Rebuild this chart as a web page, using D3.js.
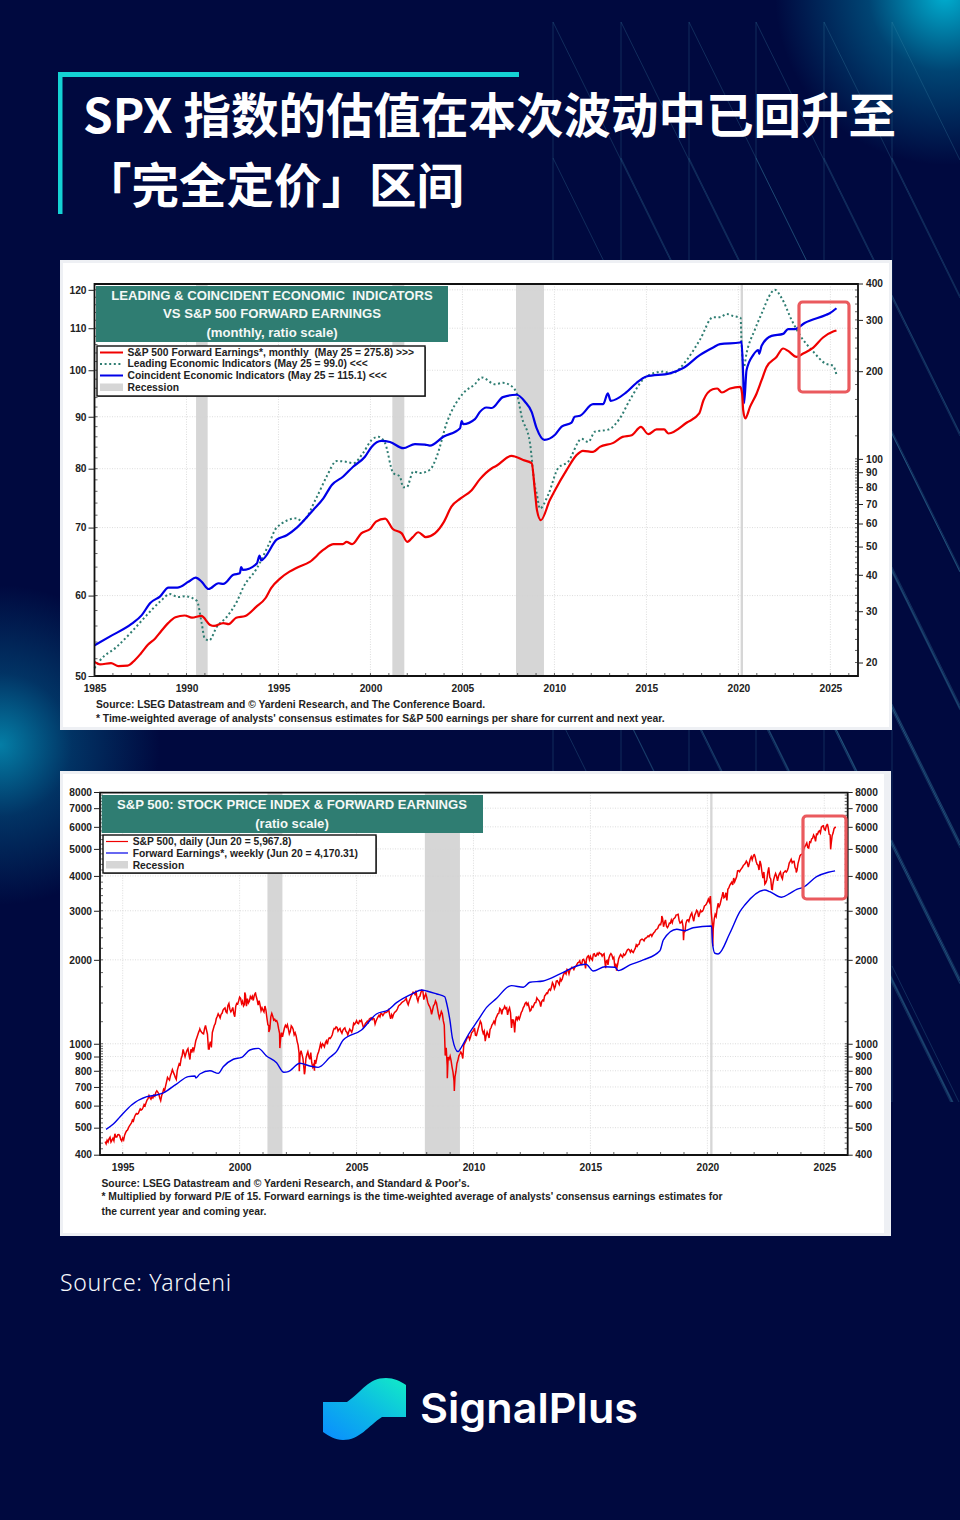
<!DOCTYPE html>
<html><head><meta charset="utf-8">
<script src="https://cdn.jsdelivr.net/npm/d3@7"></script>
<style>html,body{margin:0;padding:0;background:#00093f}svg{display:block}</style>
</head><body><svg id="c" width="960" height="1520"></svg>
<script>
// ---------- text ----------
const titleLines = ["SPX 指数的估值在本次波动中已回升至", "「完全定价」区间"];
const sourceLine = "Source: Yardeni";
const brand = "SignalPlus";
const c1Title = ["LEADING & COINCIDENT ECONOMIC  INDICATORS", "VS S&P 500 FORWARD EARNINGS", "(monthly, ratio scale)"];
const c1Legend = ["S&P 500 Forward Earnings*, monthly  (May 25 = 275.8) >>>", "Leading Economic Indicators (May 25 = 99.0) <<<", "Coincident Economic Indicators (May 25 = 115.1) <<<", "Recession"];
const c1Notes = ["Source: LSEG Datastream and © Yardeni Research, and The Conference Board.", "* Time-weighted average of analysts' consensus estimates for S&P 500 earnings per share for current and next year."];
const c2Title = ["S&P 500: STOCK PRICE INDEX & FORWARD EARNINGS", "(ratio scale)"];
const c2Legend = ["S&P 500, daily (Jun 20 = 5,967.8)", "Forward Earnings*, weekly (Jun 20 = 4,170.31)", "Recession"];
const c2Notes = ["Source: LSEG Datastream and © Yardeni Research, and Standard & Poor's.", "* Multiplied by forward P/E of 15. Forward earnings is the time-weighted average of analysts' consensus earnings estimates for", "the current year and coming year."];

// ---------- chart 1 ticks ----------
const c1YearTicks = [1985,1990,1995,2000,2005,2010,2015,2020,2025];
const c1LeftTicks = [50,60,70,80,90,100,110,120];
const c1RightTicks = [20,30,40,50,60,70,80,90,100,200,300,400];
const c1Recessions = [[1990.52,1991.15],[2001.19,2001.84],[2007.91,2009.43],[2020.12,2020.25]];

// ---------- chart 1 series ----------
const earnYears = [1985,1985.3,1985.9,1986.3,1986.8,1987.2,1987.5,1987.9,1988.3,1988.6,1989,1989.4,1989.9,1990.3,1990.8,1991.29,1991.5,1992,1992.3,1992.7,1993.2,1993.8,1994.3,1994.6,1995.1,1995.6,1996,1996.7,1997.45,1998,1998.5,1998.7,1999,1999.5,2000,2000.3,2000.8,2001.2,2001.7,2002,2002.3,2002.6,2003,2003.5,2004,2004.4,2004.9,2005.5,2005.95,2006.6,2006.85,2007.67,2008.3,2008.76,2008.95,2009.05,2009.26,2009.75,2010.03,2010.66,2011.2,2011.55,2012.1,2012.47,2013.2,2013.7,2014.2,2014.7,2015.1,2015.55,2015.96,2016.2,2017.2,2017.87,2018.1,2018.6,2018.85,2019.1,2019.55,2020.1,2020.2,2020.26,2020.37,2020.63,2020.99,2021.26,2021.53,2022.07,2022.43,2022.7,2023.16,2023.52,2024.07,2024.6,2025.15,2025.33];
const earnValues = [20.1,19.7,19.9,19.45,19.5,20.4,21.4,23,24.2,25.5,27.3,28.6,29,28.5,28.9,26.9,26.7,27.3,27.1,28.5,28.9,31.1,33.3,36,38.9,41,42.3,44.3,48.8,51,51,51.9,51,55.5,57.6,60.9,62.4,57.6,55.5,51.9,53.9,56,53.9,55.5,60.9,68.6,73.2,78.1,85.2,92.9,94.7,102.4,99.1,96.7,76.3,66.7,61.6,72.2,78.1,91.5,103,106.6,105.7,110,113.5,119,120.6,128.8,121.6,126.2,126.2,122.2,133.3,143.2,159,173.4,174.4,169,174.4,176.6,167.7,146.9,137.7,150.8,167.7,186.2,206.8,223.9,239.3,234.8,223.9,230,241,261,273.6,275.8];

const coinYears = [1985,1985.85,1987.03,1987.57,1988.03,1988.57,1989.02,1989.5,1990.1,1990.5,1990.83,1991.2,1991.74,1992,1992.55,1992.9,1992.97,1993.06,1993.82,1993.97,1994.06,1994.9,1995.45,1996,1996.9,1997.44,1997.9,1998.52,1999.07,1999.7,2000.07,2000.6,2001.06,2001.78,2002.42,2002.96,2003.23,2003.96,2004.87,2004.96,2005.04,2005.68,2005.95,2006.3,2006.6,2007.2,2007.95,2008.4,2008.76,2009.03,2009.45,2010.03,2010.39,2010.93,2011.1,2011.39,2012.1,2012.65,2012.9,2013.06,2013.9,2014.44,2015,2016.27,2017,2017.9,2018.63,2019,2020.08,2020.17,2020.26,2020.31,2020.44,2020.8,2021.08,2021.13,2021.26,2021.8,2022.43,2022.7,2023.07,2023.6,2024.78,2024.96,2025.33];
const coinValues = [53.6,54.7,56.3,57.4,59,59.9,61.1,61.1,61.9,62.5,61.9,60.9,61.7,61.6,62.9,63.1,64,63.6,64.5,65.7,65,68.1,68.8,70,72.9,74.8,77.1,78.6,80.4,82.2,84.1,85.2,85,83.8,84.6,84.5,84.3,86,87.7,89.1,88.5,89.5,91,91.9,91.8,94.1,94.6,93.1,91,87.7,85.4,86.4,88,88.8,90,90.2,92.6,92.6,94.9,93.3,95.1,97.1,98.6,99.3,100.5,103.5,105.3,106.1,106.5,106.7,98.6,92.8,100,103.5,104.7,103.8,105.7,108.1,108.6,109.8,109.8,111.3,113.4,113.8,115.1];

const leadYears = [1985,1985.3,1986.2,1987.03,1987.84,1988.57,1989.1,1989.56,1989.93,1990.56,1990.83,1990.98,1991.23,1991.65,1992.2,1992.74,1993.1,1993.82,1994.46,1994.9,1996,1996.27,1997.08,1997.62,1998.16,1998.6,1999.07,1999.6,2000.07,2000.43,2000.79,2001.24,2001.6,2001.78,2001.97,2002.33,2002.69,2003.23,2003.6,2004.14,2005.04,2005.68,2006.04,2006.77,2007.2,2007.58,2007.95,2008.22,2008.67,2008.94,2009.03,2009.21,2009.66,2010.2,2010.75,2011.48,2011.84,2012.2,2012.92,2013.56,2014.1,2015,2015.9,2016.37,2017.2,2017.9,2018.63,2019,2019.36,2019.7,2020.12,2020.17,2020.3,2020.44,2020.89,2021.35,2021.62,2021.98,2022.35,2022.9,2023.34,2024.07,2024.7,2025.15,2025.33];
const leadValues = [50.9,51.8,53.4,55.3,57.4,59.2,60.2,59.8,59.9,59.3,56.3,54.5,54.2,55.9,57.2,59.2,61.2,63.8,67.3,70,71.5,71,75,78.6,81.4,81.3,81,82.9,85.4,86,84.8,79.2,78.6,76.7,76.7,79.5,79.2,79.8,82.2,88.7,94.9,96.9,98.4,96.9,97.2,96.7,94.9,90,84.8,76.8,75.7,73.1,75.4,80.1,81.3,85.6,85,87,87.4,89.7,93.5,98.6,99.7,99.3,102.4,107.1,112.8,112.8,113.6,113.1,112.6,106.3,100.8,103.9,109.6,114.7,117.8,120,117.8,112,108.3,104.3,101.6,101,99];

// ---------- chart 2 ticks ----------
const c2YearTicks = [1995,2000,2005,2010,2015,2020,2025];
const c2ValueTicks = [400,500,600,700,800,900,1000,2000,3000,4000,5000,6000,7000,8000];
const c2Recessions = [[2001.19,2001.83],[2007.92,2009.42],[2020.12,2020.22]];

// ---------- chart 2 series: S&P 500 month-end readings from Mar 1994 ----------
const spxStart = 1994.25;
const spxMonthly = [
445.8,450.9,456.5,444.3,458.3,475.5,462.7,472.3,453.7,459.3,
470,487,500,514,533,545,562,562,584,582,605,615,
636,640,645,654,669,671,640,652,687,705,757,741,
786,791,757,801,848,885,954,899,947,915,955,970,
980,1049,1101,1112,1090,1133,1120,957,1017,1098,1163,1229,
1280,1238,1286,1335,1301,1372,1328,1320,1282,1362,1388,1469,
1394,1366,1498,1452,1420,1454,1430,1517,1436,1429,1314,1320,
1366,1239,1160,1249,1255,1224,1211,1133,1040,1059,1139,1148,
1130,1106,1147,1076,1067,989,911,916,815,885,936,879,
855,841,848,916,963,974,990,1008,995,1050,1058,1111,
1131,1144,1126,1107,1120,1140,1101,1104,1114,1130,1173,1211,
1181,1203,1180,1156,1191,1191,1234,1220,1228,1207,1249,1248,
1280,1280,1294,1310,1270,1270,1276,1303,1335,1377,1400,1418,
1438,1406,1420,1482,1530,1503,1455,1473,1526,1549,1481,1468,
1378,1330,1322,1385,1400,1280,1267,1282,1166,968,896,903,
825,735,797,872,919,919,987,1020,1057,1036,1095,1115,
1073,1104,1169,1186,1089,1030,1101,1049,1141,1183,1180,1257,
1286,1327,1325,1363,1345,1320,1292,1218,1131,1253,1246,1257,
1312,1365,1408,1397,1310,1362,1379,1406,1440,1412,1416,1426,
1498,1514,1569,1597,1630,1606,1685,1632,1681,1756,1805,1848,
1782,1859,1872,1883,1923,1960,1930,2003,1972,2018,2067,2058,
1994,2104,2067,2085,2107,2063,2103,1972,1920,2079,2080,2043,
1940,1932,2059,2065,2096,2098,2173,2170,2168,2126,2198,2238,
2278,2363,2362,2384,2411,2423,2470,2471,2519,2575,2647,2673,
2823,2713,2640,2648,2705,2718,2816,2901,2913,2711,2760,2506,
2704,2784,2834,2945,2752,2941,2980,2926,2976,3037,3140,3230,
3225,2954,2584,2912,3044,3100,3271,3500,3363,3269,3621,3756,
3714,3811,3972,4181,4204,4297,4395,4522,4307,4605,4567,4766,
4515,4373,4530,4131,4132,3785,4130,3955,3585,3871,4080,3839,
4076,3970,4109,4169,4179,4450,4588,4507,4288,4193,4567,4769,
4845,5096,5254,5035,5277,5460,5522,5648,5762,5705,6032,5881,
6040,5954,5611,5569,5911,5967.8];
// readings between consecutive month-ends
const spxMidMonth = [
438,444,462,451,449,463,472,468,448,452,
480,490,508,520,528,555,559,574,579,592,599,628,
652,633,640,648,678,662,625,665,680,730,748,768,
808,775,745,826,840,905,926,925,960,878,930,945,
1025,1075,1122,1100,1085,1164,1082,985,970,1130,1180,1252,
1262,1275,1320,1345,1290,1395,1302,1350,1250,1395,1425,1455,
1420,1385,1365,1400,1478,1480,1490,1480,1375,1375,1345,1300,
1320,1170,1130,1285,1215,1205,1185,1090,1097,1100,1165,1170,
1085,1160,1125,1095,1020,925,945,885,795,915,900,930,
825,875,880,935,1000,1000,975,1025,1035,1045,1075,1135,
1150,1110,1135,1090,1132,1110,1075,1128,1100,1185,1190,1185,
1210,1215,1145,1180,1205,1225,1240,1232,1178,1230,1265,1285,
1262,1300,1298,1325,1228,1245,1295,1315,1365,1385,1412,1426,
1455,1380,1450,1505,1525,1550,1420,1480,1555,1440,1510,1410,
1360,1275,1370,1425,1340,1235,1305,1210,907,835,880,870,
790,760,850,905,935,885,1005,1040,1065,1060,1105,1140,
1070,1140,1205,1120,1110,1070,1080,1125,1170,1205,1235,1280,
1340,1275,1335,1335,1270,1345,1140,1215,1200,1220,1225,1295,
1345,1395,1378,1355,1320,1352,1405,1460,1430,1360,1435,1485,
1520,1555,1555,1655,1575,1680,1655,1710,1705,1790,1780,1835,
1840,1880,1845,1895,1950,1985,1925,2010,1865,2055,2000,2015,
2095,2060,2110,2125,2100,2090,1950,1990,2030,2105,2020,1890,
1860,2020,2090,2045,2075,2140,2185,2130,2140,2165,2265,2270,
2345,2375,2340,2395,2435,2455,2430,2500,2560,2590,2680,2760,
2630,2780,2610,2710,2780,2800,2840,2905,2770,2725,2640,2530,
2775,2745,2900,2840,2890,3010,2850,3010,2990,3120,3170,3300,
3375,2700,2800,2860,3190,3160,3370,3340,3480,3580,3700,3800,
3930,3890,4170,4140,4250,4370,4440,4460,4440,4690,4700,4690,
4400,4200,4390,3930,3740,3870,4290,3900,3690,3990,3990,3990,
4130,3900,4130,4130,4280,4510,4460,4510,4220,4430,4720,4780,
5010,5170,5060,5300,5430,5610,5320,5630,5810,5970,6050,5840,
6120,5640,5200,5700,5980];
// daily extremes seen between the month-ends
const spxPeakYears = [1998.3,1998.7,2000.22,2000.68,2001.25,2001.72,2002.55,2002.77,2003.2,2008.88,2009.18,2010.5,2011.76,2015.65,2016.12,2018.05,2018.98,2020.13,2020.23,2022.0,2022.78,2023.8,2025.13,2025.27];
const spxPeakValues = [1130,957,1527,1520,1103,965,797,777,800,752,677,1022,1099,1868,1829,2873,2351,3386,2237,4796,3577,4117,6144,4983];

const fwdYears = [1994.29,1994.6,1994.89,1995.38,1996.03,1996.45,1996.74,1997.3,1997.8,1998.09,1998.13,1998.3,1998.73,1999.09,1999.3,1999.73,2000.09,2000.44,2000.8,2001.15,2001.58,2001.89,2002.08,2002.58,2003,2003.36,2003.86,2004.14,2004.43,2005.21,2005.85,2006.35,2006.71,2007.42,2007.78,2008,2008.43,2008.77,2008.85,2008.99,2009.1,2009.34,2009.48,2009.77,2010.2,2010.56,2010.99,2011.49,2011.63,2012.13,2012.41,2012.98,2013.7,2014.55,2014.81,2015.12,2015.62,2016.05,2016.19,2016.69,2017.26,2017.97,2018.12,2018.69,2019.04,2019.39,2020.18,2020.22,2020.32,2020.46,2020.96,2021.39,2021.6,2022.46,2022.67,2023.17,2023.53,2023.82,2024.1,2024.67,2025.17,2025.46];
const fwdValues = [493,515,547,603,646,655,667,717,762,766,754,779,800,783,827,880,894,950,963,904,855,790,794,851,832,823,894,937,1031,1120,1279,1322,1404,1517,1559,1546,1508,1475,1400,1217,1046,937,971,1075,1217,1350,1456,1603,1616,1595,1662,1680,1780,1917,1928,1824,1890,1881,1829,1917,1998,2157,2357,2574,2544,2608,2645,2293,2112,2099,2491,2977,3147,3563,3511,3353,3465,3582,3642,3974,4123,4170.31];

// ---------- decoration ----------
const svg = d3.select("#c");
const defs = svg.append("defs");
function glow(id, cx, cy, r, col){
  const g = defs.append("radialGradient").attr("id",id).attr("gradientUnits","userSpaceOnUse").attr("cx",cx).attr("cy",cy).attr("r",r);
  g.append("stop").attr("offset",0).attr("stop-color",col).attr("stop-opacity",1);
  g.append("stop").attr("offset",0.45).attr("stop-color",col).attr("stop-opacity",.36);
  g.append("stop").attr("offset",1).attr("stop-color",col).attr("stop-opacity",0);
}
glow("g1",945,-5,170,"#00aed0");
glow("g2",0,745,160,"#047ea6");
const lg = defs.append("linearGradient").attr("id","lg").attr("x1",0).attr("y1",1).attr("x2",1).attr("y2",0);
lg.append("stop").attr("offset",0).attr("stop-color","#0a8cff");
lg.append("stop").attr("offset",.5).attr("stop-color","#0cb8e6");
lg.append("stop").attr("offset",1).attr("stop-color","#12ecc6");

svg.append("rect").attr("width",960).attr("height",1520).attr("fill","#00093f");
svg.append("rect").attr("width",960).attr("height",1520).attr("fill","url(#g1)");
svg.append("rect").attr("width",960).attr("height",1520).attr("fill","url(#g2)");

const lineXs = [553,621,689,756,824,892];
const lineYs = [22,158,295,431,567,704,840,966];
const deco = svg.append("g").attr("stroke","#3f8fb0").attr("stroke-opacity",.38).attr("stroke-width",.7).attr("fill","none");
lineXs.forEach(x=>{
  deco.append("line").attr("x1",x).attr("x2",x).attr("y1",22).attr("y2",1102);
  lineYs.forEach(y=>{
    const dx = Math.min(960-x,(1102-y)/2.03);
    deco.append("line").attr("x1",x).attr("y1",y).attr("x2",x+dx).attr("y2",y+dx*2.03);
  });
});

svg.append("rect").attr("x",58).attr("y",72).attr("width",461).attr("height",5).attr("fill","#14d2d4");
svg.append("rect").attr("x",58).attr("y",72).attr("width",4.5).attr("height",142).attr("fill","#14d2d4");
const tt = svg.append("g").attr("fill","#fff").attr("font-family","'Noto Sans CJK SC'").attr("font-weight",700).attr("font-size",47.5);
tt.append("text").attr("x",83).attr("y",133).text(titleLines[0]);
tt.append("text").attr("x",84).attr("y",203).text(titleLines[1]);

svg.append("text").attr("x",60).attr("y",1291).attr("fill","#f6f8fb").attr("font-family","'Noto Sans'").attr("font-weight",300).attr("font-size",23).attr("letter-spacing",.7).text(sourceLine);

svg.append("path").attr("fill","url(#lg)").attr("d","M323 1402 L347 1402 C362 1392 368 1378 386 1378 C394 1378 400 1381 406 1385 L406 1417 L382 1417 C368 1426 360 1440 343 1440 C335 1440 329 1436 323 1432 Z");
svg.append("text").attr("x",420).attr("y",1423).attr("fill","#fff").attr("font-family","Inter").attr("font-weight",600).attr("font-size",41.5).attr("textLength",218).attr("lengthAdjust","spacingAndGlyphs").text(brand);

// ---------- shared chart helpers ----------
const FONT = "'Liberation Sans'";
function card(x,y,w,h,bandX){
  svg.append("rect").attr("x",x).attr("y",y).attr("width",w).attr("height",h).attr("fill","#eef0f4");
  svg.append("rect").attr("x",x+3).attr("y",y+3).attr("width",bandX-x-3).attr("height",h-6).attr("fill","#fff");
}
function grid(g,xs,ys,x,y,L,R,T,B){
  const gr = g.append("g").attr("stroke","#d4d4d4").attr("stroke-width",.8).attr("stroke-dasharray","1 1.5");
  xs.forEach(v=>gr.append("line").attr("x1",x(v)).attr("x2",x(v)).attr("y1",T).attr("y2",B));
  ys.forEach(v=>gr.append("line").attr("x1",L).attr("x2",R).attr("y1",y(v)).attr("y2",y(v)));
}
function styleAxis(a,size){
  a.select(".domain").remove();
  a.selectAll("text").attr("font-family",FONT).attr("font-weight",700).attr("font-size",size).attr("fill","#222");
  a.selectAll("line").attr("stroke","#222").attr("stroke-width",1);
}
function minor(g,vals,pos,orient,len){
  const m = g.append("g").attr("stroke","#222").attr("stroke-width",.7);
  vals.forEach(v=>{
    const p = pos.scale(v);
    if(orient==="x") m.append("line").attr("x1",p).attr("x2",p).attr("y1",pos.at).attr("y2",pos.at-len);
    else m.append("line").attr("y1",p).attr("y2",p).attr("x1",pos.at).attr("x2",pos.at+len);
  });
}
function titleBox(x,y,w,h,cx,lines,bases,size){
  svg.append("rect").attr("x",x).attr("y",y).attr("width",w).attr("height",h).attr("fill","#2f7d72");
  lines.forEach((t,i)=>svg.append("text").attr("x",cx).attr("y",bases[i]).attr("text-anchor","middle").attr("xml:space","preserve").attr("fill","#f4f8f6").attr("font-family",FONT).attr("font-weight",700).attr("font-size",size).text(t));
}
function legendBox(x,y,w,h){
  svg.append("rect").attr("x",x+1).attr("y",y+1).attr("width",w).attr("height",h).attr("fill","#777");
  svg.append("rect").attr("x",x).attr("y",y).attr("width",w).attr("height",h).attr("fill","#fff").attr("stroke","#111").attr("stroke-width",1.4);
}
function legendText(x,y,t,size){
  svg.append("text").attr("x",x).attr("y",y).attr("xml:space","preserve").attr("font-family",FONT).attr("font-weight",700).attr("font-size",size).attr("fill","#222").text(t);
}
function notes(x,bases,lines,size){
  lines.forEach((t,i)=>legendText(x,bases[i],t,size));
}
function frame(g,L,R,T,B){
  g.append("path").attr("fill","none").attr("stroke","#111").attr("stroke-width",1.8).attr("d",`M${L} ${T}H${R}V${B}H${L}Z`);
}
function highlight(x,y,w,h){
  svg.append("rect").attr("x",x).attr("y",y).attr("width",w).attr("height",h).attr("rx",3.5).attr("fill","none").attr("stroke","#ea5a5e").attr("stroke-width",3.2);
}

// ---------- chart 1 ----------
card(60,260,832,470,889);
{
  const L=94.5,R=858,T=284,B=676;
  const x=d3.scaleLinear().domain([1985,2026.5]).range([L,R]);
  const yL=d3.scaleLog().domain([50,121.6]).range([B,T]);
  const yR=d3.scaleLog().domain([20,400]).range([662.5,283.5]);
  const g=svg.append("g");
  g.selectAll(".rec").data(c1Recessions).join("rect").attr("x",d=>x(d[0])).attr("width",d=>x(d[1])-x(d[0])).attr("y",T).attr("height",B-T).attr("fill","#d6d6d6");
  grid(g,c1YearTicks.slice(1),c1LeftTicks.slice(1),x,yL,L,R,T,B);
  const lineOf=(xs,ys,yScale)=>d3.line().curve(d3.curveMonotoneX).x((d,i)=>x(xs[i])).y(d=>yScale(d))(ys);
  g.append("path").attr("d",lineOf(leadYears,leadValues,yL)).attr("fill","none").attr("stroke","#2f7d72").attr("stroke-width",2).attr("stroke-dasharray","2 2.6");
  g.append("path").attr("d",lineOf(coinYears,coinValues,yL)).attr("fill","none").attr("stroke","#0000e8").attr("stroke-width",2.2).attr("stroke-linejoin","round");
  g.append("path").attr("d",lineOf(earnYears,earnValues,yR)).attr("fill","none").attr("stroke","#f00000").attr("stroke-width",2.2).attr("stroke-linejoin","round");
  frame(g,L,R,T,B);
  minor(g,d3.range(1985,2027),{scale:x,at:B},"x",3);
  minor(g,d3.range(50,122,2),{scale:yL,at:L},"y",3);
  minor(g,d3.range(20,100,2).concat(d3.range(100,400,20)),{scale:yR,at:R},"y",-3);
  const ax=g.append("g").attr("transform",`translate(0,${B})`).call(d3.axisBottom(x).tickValues(c1YearTicks).tickFormat(d3.format("d")).tickSize(0).tickPadding(9));
  styleAxis(ax,10.2);
  const al=g.append("g").attr("transform",`translate(${L},0)`).call(d3.axisLeft(yL).tickValues(c1LeftTicks).tickFormat(d3.format("d")).tickSize(6).tickPadding(2));
  styleAxis(al,10.2);
  const ar=g.append("g").attr("transform",`translate(${R},0)`).call(d3.axisRight(yR).tickValues(c1RightTicks).tickFormat(d3.format("d")).tickSize(5).tickPadding(3));
  styleAxis(ar,10.2);
  titleBox(96,286,352,56,272,c1Title,[300,318,336.5],13.15);
  legendBox(97,346,328,50);
  const s=svg.append("g");
  s.append("line").attr("x1",100).attr("x2",123).attr("y1",352.5).attr("y2",352.5).attr("stroke","#f00000").attr("stroke-width",2);
  s.append("line").attr("x1",100).attr("x2",123).attr("y1",364).attr("y2",364).attr("stroke","#2f7d72").attr("stroke-width",2).attr("stroke-dasharray","2 2.6");
  s.append("line").attr("x1",100).attr("x2",123).attr("y1",375.5).attr("y2",375.5).attr("stroke","#0000e8").attr("stroke-width",2);
  s.append("rect").attr("x",100).attr("y",383.5).attr("width",23).attr("height",7.5).attr("fill","#d6d6d6");
  [355.7,367.3,379,390.5].forEach((b,i)=>legendText(127.5,b,c1Legend[i],10.3));
  notes(96,[708,722],c1Notes,10.3);
  highlight(799,302,50,90);
}

// ---------- chart 2 ----------
card(60,771,831,465,884);
{
  const L=100,R=847.7,T=792.7,B=1155;
  const x=d3.scaleLinear().domain([1994.03,2026]).range([L,R]);
  const y=d3.scaleLog().domain([400,8000]).range([1154.7,792]);
  const g=svg.append("g");
  g.selectAll(".rec").data(c2Recessions).join("rect").attr("x",d=>x(d[0])).attr("width",d=>x(d[1])-x(d[0])).attr("y",T).attr("height",B-T).attr("fill","#d6d6d6");
  grid(g,c2YearTicks,c2ValueTicks.slice(1,-1),x,y,L,R,T,B);
  const spx = spxMonthly.map((v,i)=>[spxStart+i/12,v])
    .concat(spxMidMonth.map((v,i)=>[spxStart+(i+0.5)/12,v]))
    .concat(spxPeakYears.map((t,i)=>[t,spxPeakValues[i]]))
    .sort((a,b)=>a[0]-b[0]);
  g.append("path").attr("d",d3.line().x(d=>x(d[0])).y(d=>y(d[1]))(spx)).attr("fill","none").attr("stroke","#f00000").attr("stroke-width",1.5);
  g.append("path").attr("d",d3.line().curve(d3.curveMonotoneX).x((d,i)=>x(fwdYears[i])).y(d=>y(d))(fwdValues)).attr("fill","none").attr("stroke","#0000e8").attr("stroke-width",1.4);
  frame(g,L,R,T,B);
  minor(g,d3.range(1995,2026),{scale:x,at:B},"x",3);
  minor(g,d3.range(400,1000,20).concat(d3.range(1000,8000,200)),{scale:y,at:L},"y",3);
  minor(g,d3.range(400,1000,20).concat(d3.range(1000,8000,200)),{scale:y,at:R},"y",-3);
  const ax=g.append("g").attr("transform",`translate(0,${B})`).call(d3.axisBottom(x).tickValues(c2YearTicks).tickFormat(d3.format("d")).tickSize(0).tickPadding(9));
  styleAxis(ax,10.2);
  const al=g.append("g").attr("transform",`translate(${L},0)`).call(d3.axisLeft(y).tickValues(c2ValueTicks).tickFormat(d3.format("d")).tickSize(6).tickPadding(2));
  styleAxis(al,10.2);
  const ar=g.append("g").attr("transform",`translate(${R},0)`).call(d3.axisRight(y).tickValues(c2ValueTicks).tickFormat(d3.format("d")).tickSize(5).tickPadding(2.5));
  styleAxis(ar,10.2);
  titleBox(101.7,795,381.3,38,292,c2Title,[809,827.5],13.1);
  legendBox(103,835,273,38);
  const s=svg.append("g");
  s.append("line").attr("x1",106).attr("x2",128).attr("y1",841.5).attr("y2",841.5).attr("stroke","#f00000").attr("stroke-width",1.2);
  s.append("line").attr("x1",106).attr("x2",128).attr("y1",853).attr("y2",853).attr("stroke","#0000e8").attr("stroke-width",1.2);
  s.append("rect").attr("x",106).attr("y",861).attr("width",22).attr("height",7.5).attr("fill","#d6d6d6");
  [845,856.7,868.5].forEach((b,i)=>legendText(132.7,b,c2Legend[i],10.3));
  notes(101.5,[1186.5,1200,1214.5],c2Notes,10.3);
  highlight(803,816,43,83);
}
</script></body></html>
